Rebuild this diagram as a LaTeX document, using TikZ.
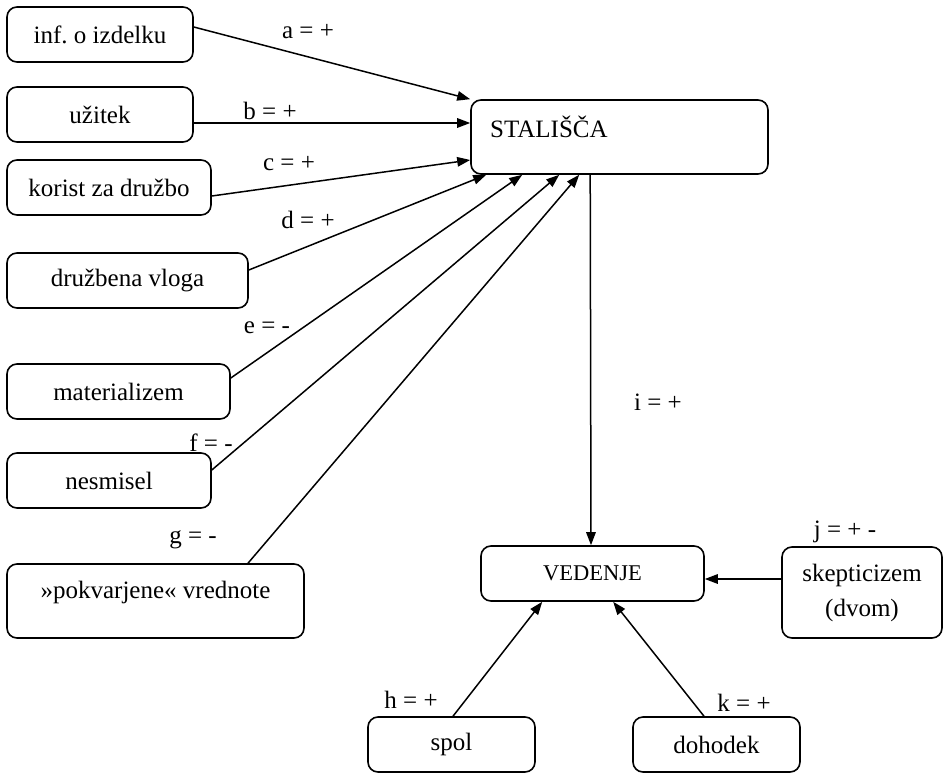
\documentclass[tikz,border=0pt]{standalone}
\usepackage{fontspec}
\setmainfont{Liberation Serif}
\usetikzlibrary{arrows.meta}
\frenchspacing
\tikzset{
  box/.style={draw, rounded corners=10pt, line width=1.6pt, inner sep=0pt, align=center,
    font=\fontsize{25}{35}\selectfont},
  txt/.style={inner sep=0pt, font=\fontsize{25}{29}\selectfont},
  arr/.style={line width=1.5pt, -{Triangle[length=13pt,width=9.5pt]}},
}
\begin{document}
\begin{tikzpicture}[x=1pt,y=-1pt]
\useasboundingbox (0,0) rectangle (944,773);
% boxes
\node[box, minimum width=186pt, minimum height=55pt] (inf) at (100,34.5) {inf. o izdelku};
\node[box, minimum width=186pt, minimum height=55pt] (uz) at (100,114.5) {užitek};
\node[box, minimum width=204pt, minimum height=55pt] (kor) at (109,187.5) {korist za družbo};
\node[box, minimum width=241pt, minimum height=55pt] (dv) at (127.5,280.5) {družbena vloga};
\node[box, minimum width=223pt, minimum height=55pt] (mat) at (118.5,391.5) {materializem};
\node[box, minimum width=204pt, minimum height=55pt] (nes) at (109,480.5) {nesmisel};
\node[box, minimum width=297pt, minimum height=74pt] (pv) at (155.5,601) {};
\node[txt] (pvt) at (155.5,592) {»pokvarjene« vrednote};
\node[box, minimum width=297pt, minimum height=74pt] (st) at (619.5,137) {};
\node[txt, anchor=west] (stt) at (490,127) {STALIŠČA};
\node[box, minimum width=223pt, minimum height=55pt, font=\fontsize{22.5}{27}\selectfont] (ved) at (592.5,573.5) {VEDENJE};
\node[box, minimum width=160pt, minimum height=91pt] (sk) at (862,592.5) {skepticizem\\(dvom)};
\node[box, minimum width=167pt, minimum height=55pt] (spol) at (451.5,744.5) {spol};
\node[box, minimum width=167pt, minimum height=55pt] (doh) at (716.5,744.5) {dohodek};
% connectors
\draw[arr] ([yshift=7.5pt]inf.east) -- (st.north west);
\draw[arr] ([yshift=-8.5pt]uz.east) -- ([yshift=14pt]st.west);
\draw[arr] ([yshift=-8.5pt]kor.east) -- ([yshift=-23pt]st.west);
\draw[arr] ([yshift=10.5pt]dv.east) -- ([xshift=16pt]st.south west);
\draw[arr] ([yshift=13.5pt]mat.east) -- ([xshift=52pt]st.south west);
\draw[arr] ([yshift=10.5pt]nes.east) -- ([xshift=89pt]st.south west);
\draw[arr] ([xshift=92.5pt]pv.north) -- ([xshift=109pt]st.south west);
\draw[arr] ([xshift=120pt]st.south west) -- ([xshift=-1.5pt]ved.north);
\draw[arr] ([yshift=13.5pt]sk.west) -- ([yshift=-5.5pt]ved.east);
\draw[arr] ([xshift=1.5pt]spol.north) -- ([xshift=62pt]ved.south west);
\draw[arr] ([xshift=-12.5pt]doh.north) -- ([xshift=133pt]ved.south west);
% labels
\node[txt] (la) at (308,32) {a = +};
\node[txt] (lb) at (270,111) {b = +};
\node[txt] (lc) at (289,164) {c = +};
\node[txt] (ld) at (308,220) {d = +};
\node[txt] (le) at (267,328) {e = -};
\node[txt] (lf) at (211,443) {f = -};
\node[txt] (lg) at (193,540) {g = -};
\node[txt] (li) at (658,402) {i = +};
\node[txt] (lj) at (845,532) {j = + -};
\node[txt] (lh) at (411,700) {h = +};
\node[txt] (lk) at (744,703) {k = +};
\end{tikzpicture}
\end{document}
